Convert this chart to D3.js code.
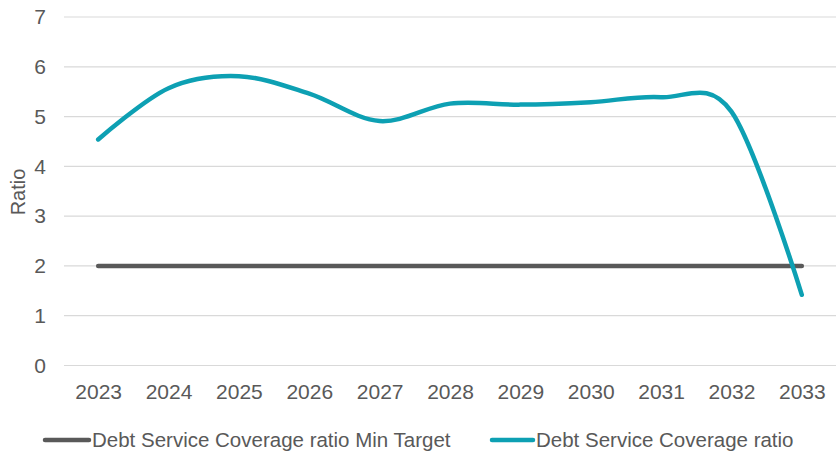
<!DOCTYPE html>
<html>
<head>
<meta charset="utf-8">
<script src="https://cdn.jsdelivr.net/npm/d3@7"></script>
<style>
  html, body { margin: 0; padding: 0; background: #fff; }
  svg { display: block; font-family: "Liberation Sans", Arial, sans-serif; }
</style>
</head>
<body>
<svg id="chart" width="836" height="452"></svg>
<script>
// Debt service coverage ratio projection against the minimum target
const years = ["2023", "2024", "2025", "2026", "2027", "2028", "2029", "2030", "2031", "2032", "2033"];
const minTarget = [2, 2, 2, 2, 2, 2, 2, 2, 2, 2, 2];
const dscr = [4.54, 5.57, 5.81, 5.46, 4.91, 5.26, 5.24, 5.29, 5.39, 5.1, 1.42];
const yTicks = [0, 1, 2, 3, 4, 5, 6, 7];
const seriesNames = ["Debt Service Coverage ratio Min Target", "Debt Service Coverage ratio"];
const seriesColors = ["#595959", "#0DA0B3"];

const svg = d3.select("#chart");
const textColor = "#595959";

const x = d3.scalePoint().domain(years).range([63, 837]).padding(0.5);
const y = d3.scaleLinear().domain([0, 7]).range([365.5, 17]);

// Horizontal gridlines
svg.append("g")
  .selectAll("line")
  .data(yTicks)
  .join("line")
  .attr("x1", 64).attr("x2", 836)
  .attr("y1", d => y(d)).attr("y2", d => y(d))
  .attr("stroke", "#d9d9d9")
  .attr("stroke-width", 1.2);

// Y axis labels
const yAxis = svg.append("g")
  .attr("transform", "translate(46,0)")
  .call(d3.axisLeft(y).tickValues(yTicks).tickSize(0).tickPadding(0).tickFormat(d3.format("d")));
yAxis.select(".domain").remove();
yAxis.selectAll("text")
  .attr("fill", textColor)
  .attr("font-size", 21)
  .attr("font-family", "Liberation Sans, Arial, sans-serif");

// X axis labels
const xAxis = svg.append("g")
  .attr("transform", "translate(0,380)")
  .call(d3.axisBottom(x).tickSize(0).tickPadding(0));
xAxis.select(".domain").remove();
xAxis.selectAll("text")
  .attr("dy", "0.71em")
  .attr("y", 4)
  .attr("fill", textColor)
  .attr("font-size", 21)
  .attr("font-family", "Liberation Sans, Arial, sans-serif");

// Axis title
svg.append("text")
  .attr("transform", "translate(25,192) rotate(-90)")
  .attr("text-anchor", "middle")
  .attr("fill", textColor)
  .attr("font-size", 20)
  .text("Ratio");

// Min target line (straight)
const straight = d3.line()
  .x((d, i) => x(years[i]))
  .y(d => y(d));
svg.append("path")
  .datum(minTarget)
  .attr("d", straight)
  .attr("fill", "none")
  .attr("stroke", seriesColors[0])
  .attr("stroke-width", 4.5)
  .attr("stroke-linecap", "round");

// DSCR line (smoothed)
const smooth = d3.line()
  .x((d, i) => x(years[i]))
  .y(d => y(d))
  .curve(d3.curveCatmullRom.alpha(0));
svg.append("path")
  .datum(dscr)
  .attr("d", smooth)
  .attr("fill", "none")
  .attr("stroke", seriesColors[1])
  .attr("stroke-width", 4.5)
  .attr("stroke-linecap", "round")
  .attr("stroke-linejoin", "round");

// Legend
const legendItems = [
  { name: seriesNames[0], color: seriesColors[0], x1: 45, x2: 89, tx: 92 },
  { name: seriesNames[1], color: seriesColors[1], x1: 492, x2: 533, tx: 536 }
];
const legend = svg.append("g");
legendItems.forEach(it => {
  legend.append("line")
    .attr("x1", it.x1).attr("x2", it.x2)
    .attr("y1", 440).attr("y2", 440)
    .attr("stroke", it.color)
    .attr("stroke-width", 4.5)
    .attr("stroke-linecap", "round");
  legend.append("text")
    .attr("x", it.tx).attr("y", 447)
    .attr("fill", textColor)
    .attr("font-size", 20.5)
    .text(it.name);
});
</script>
</body>
</html>
